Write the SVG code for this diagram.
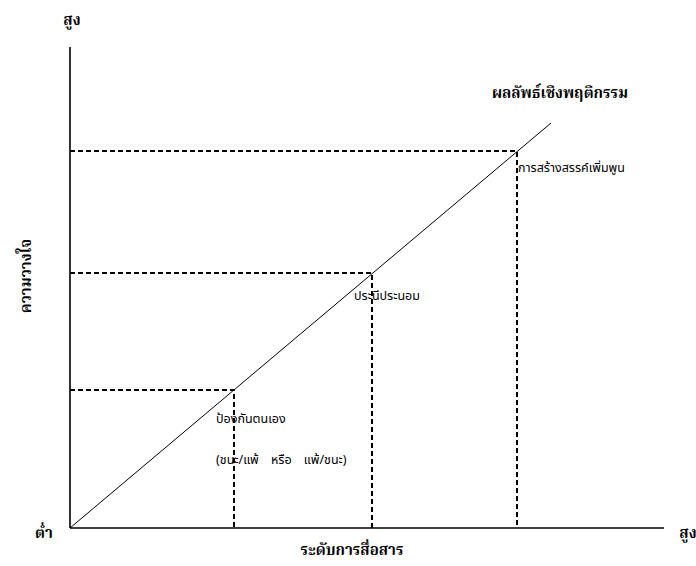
<svg xmlns="http://www.w3.org/2000/svg" width="696" height="566" viewBox="0 0 696 566">
<style>
.axis{stroke:#000;stroke-width:1.6;fill:none}
.diag{stroke:#000;stroke-width:1;fill:none}
.dash{stroke:#000;stroke-width:2;stroke-dasharray:5,3;fill:none}
.b{font-family:"Noto Serif Thai","Noto Sans Thai","Liberation Serif",serif;font-weight:bold;font-size:15px;fill:#000}
.r{font-family:"Noto Sans Thai","Liberation Sans",sans-serif;font-size:12.5px;fill:#000}
</style>
<rect width="696" height="566" fill="#fff"/>
<g id="connectors">
<line class="axis" x1="70" y1="47" x2="70" y2="528"/>
<line class="axis" x1="70" y1="528" x2="664" y2="528"/>
<line class="diag" x1="70" y1="528" x2="551" y2="123"/>
<polyline class="dash" points="70,390 234,390 234,528"/>
<polyline class="dash" points="70,273 372,273 372,528"/>
<polyline class="dash" points="70,151 517,151 517,528"/>
</g>
<g id="axis-labels">
<text class="b" x="72" y="25" text-anchor="middle">สูง</text>
<text class="b" x="44" y="538" text-anchor="middle">ต่ำ</text>
<text class="b" x="688" y="538" text-anchor="middle">สูง</text>
<text class="b" x="352" y="555" text-anchor="middle">ระดับการสื่อสาร</text>
<text class="b" transform="translate(31,276) rotate(-90)" text-anchor="middle">ความวางใจ</text>
</g>
<g id="node-outcome"><text class="b" x="560" y="98" text-anchor="middle">ผลลัพธ์เชิงพฤติกรรม</text></g>
<g id="node-synergy"><text class="r" x="518" y="172">การสร้างสรรค์เพิ่มพูน</text></g>
<g id="node-compromise"><text class="r" x="354" y="300">ประนีประนอม</text></g>
<g id="node-defensive"><text class="r" x="216" y="423">ป้องกันตนเอง</text><text class="r" x="216" y="464" word-spacing="9">(ชนะ/แพ้ หรือ แพ้/ชนะ)</text></g>
</svg>
